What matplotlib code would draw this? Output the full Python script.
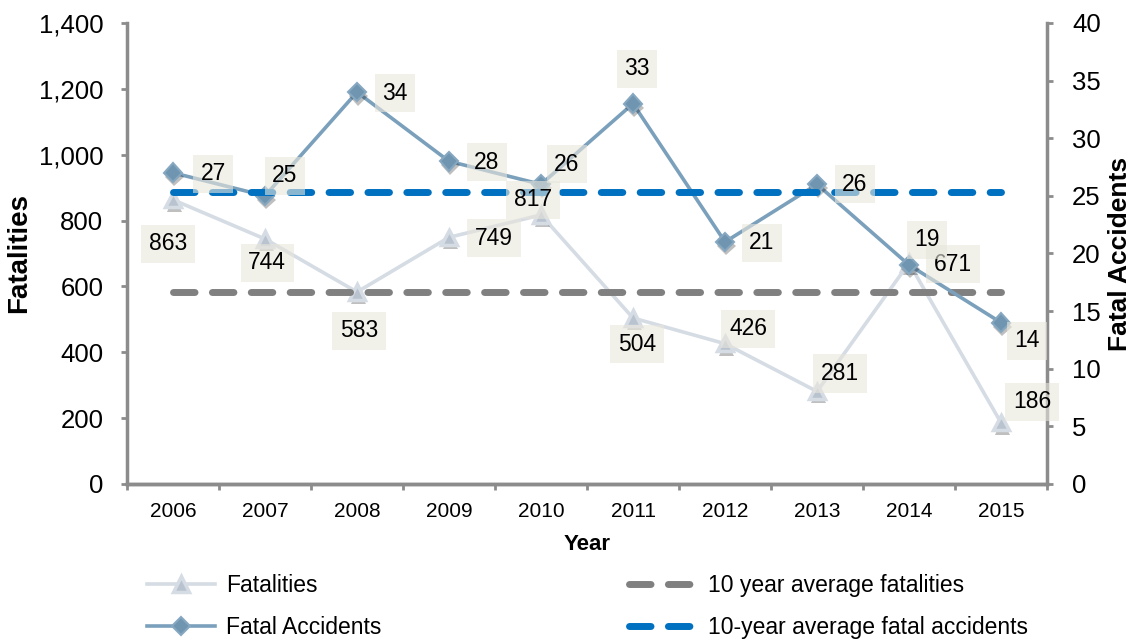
import matplotlib
matplotlib.use("Agg")

import matplotlib.pyplot as plt
import matplotlib.patheffects as pe
from matplotlib.ticker import FuncFormatter, FixedLocator

plt.rcParams["font.family"] = ["Liberation Sans", "DejaVu Sans"]

# data
years = ["2006", "2007", "2008", "2009", "2010", "2011", "2012", "2013", "2014", "2015"]
fatalities = [863, 744, 583, 749, 817, 504, 426, 281, 671, 186]
fatal_accidents = [27, 25, 34, 28, 26, 33, 21, 26, 19, 14]
avg_fatalities = 582.4
avg_accidents = 25.3

# label offsets in pixels (dx, dy with y up)
fat_offsets = [(-5, -44), (2, -24), (2, -39), (45, -1), (-8, 15),
               (4, -26), (23, 15), (23, 18), (44, -1), (31, 21)]
acc_offsets = [(40, -1), (20, 20), (38, -1), (38, -1), (26, 20),
               (4, 35), (37, -1), (38, 0), (18, 25), (26, -18)]

C_FAT = "#D5DCE4"
C_ACC = "#7BA0BC"
C_AVG_FAT = "#808080"
C_AVG_ACC = "#0070C0"
C_SPINE = "#8C8C8C"

fig = plt.figure(figsize=(11.35, 6.43), dpi=100)
ax1 = fig.add_axes([0.1119, 0.2473, 0.8106, 0.7170])
ax2 = ax1.twinx()

x = list(range(len(years)))
shadow = [pe.SimplePatchShadow(offset=(1, -3), shadow_rgbFace="black", alpha=0.25), pe.Normal()]

# Fatalities (left axis)
ax1.plot(x, fatalities, color=C_FAT, lw=2.6, zorder=2)
ax1.plot(x, fatalities, ls="none", marker="^", ms=11, mfc="#B9C3CF", mec=C_FAT, mew=2.5,
         zorder=3, path_effects=shadow)
ax1.plot([x[0], x[-1]], [avg_fatalities, avg_fatalities], color=C_AVG_FAT, lw=5,
         dashes=(3.1, 2.5), dash_capstyle="round", zorder=4)

# Fatal accidents (right axis)
ax2.plot(x, fatal_accidents, color=C_ACC, lw=2.6, zorder=2)
ax2.plot(x, fatal_accidents, ls="none", marker="D", ms=9.5, mfc="#6F95B1", mec="#86A7C0", mew=1.5,
         zorder=3, path_effects=shadow)
ax2.plot([x[0], x[-1]], [avg_accidents, avg_accidents], color=C_AVG_ACC, lw=5,
         dashes=(3.1, 2.5), dash_capstyle="round", zorder=4)

# data labels, all drawn on top
box = dict(boxstyle="square,pad=0.33", fc=(0.91, 0.90, 0.86), ec="none", alpha=0.6)
for i, v in enumerate(fatalities):
    ax2.annotate(str(v), (x[i], v), xycoords=ax1.transData, xytext=fat_offsets[i],
                 textcoords="offset pixels", ha="center", va="center", fontsize=16.5,
                 bbox=box, zorder=10)
for i, v in enumerate(fatal_accidents):
    ax2.annotate(str(v), (x[i], v), xycoords=ax2.transData, xytext=acc_offsets[i],
                 textcoords="offset pixels", ha="center", va="center", fontsize=16.5,
                 bbox=box, zorder=10)

# axes styling
ax1.set_xlim(-0.5, 9.5)
ax1.set_ylim(0, 1400)
ax2.set_ylim(0, 40)
ax1.set_yticks(range(0, 1401, 200))
ax2.set_yticks(range(0, 41, 5))
ax1.yaxis.set_major_formatter(FuncFormatter(lambda v, p: f"{v:,.0f}"))

ax1.set_xticks(x)
ax1.set_xticklabels(years, fontsize=15)
ax1.xaxis.set_minor_locator(FixedLocator([i - 0.5 for i in range(len(years) + 1)]))
ax1.tick_params(axis="x", which="major", length=0, pad=13)
ax1.tick_params(axis="x", which="minor", length=4, width=2, color=C_SPINE, direction="out")
ax1.tick_params(axis="y", length=4, width=2, color=C_SPINE, labelsize=18.5, pad=13)
ax2.tick_params(axis="y", length=4, width=2, color=C_SPINE, labelsize=18.5, pad=14)

for a in (ax1, ax2):
    a.spines["top"].set_visible(False)
    for s in ("left", "right", "bottom"):
        a.spines[s].set_color(C_SPINE)
        a.spines[s].set_linewidth(2.5)
ax1.spines["right"].set_visible(False)
ax2.spines["left"].set_visible(False)

ax1.set_xlabel("Year", fontsize=16, fontweight="bold", labelpad=9)
ax1.set_ylabel("Fatalities", fontsize=20, fontweight="bold")
ax1.yaxis.set_label_coords(-0.103, 0.5)
ax2.set_ylabel("Fatal Accidents", fontsize=19, fontweight="bold")
ax2.yaxis.set_label_coords(1.066, 0.5)

# legends
h_fat, = ax1.plot([], [], color=C_FAT, lw=2.6, marker="^", ms=11, mfc="#B9C3CF", mec=C_FAT, mew=2.5)
h_acc, = ax1.plot([], [], color=C_ACC, lw=2.6, marker="D", ms=9.5, mfc="#6F95B1", mec="#86A7C0", mew=1.5)
h_avf, = ax1.plot([], [], color=C_AVG_FAT, lw=5, dashes=(3.1, 2.5), dash_capstyle="round")
h_ava, = ax1.plot([], [], color=C_AVG_ACC, lw=5, dashes=(3.1, 2.5), dash_capstyle="round")

leg_kw = dict(frameon=False, fontsize=16.5, handlelength=2.95, handletextpad=0.5,
              labelspacing=0.85, borderpad=0, borderaxespad=0, loc="upper left",
              bbox_transform=fig.transFigure)
leg1 = ax2.legend([h_fat, h_acc], ["Fatalities", "Fatal Accidents"],
                  bbox_to_anchor=(147 / 1135, 1 - 574 / 643), **leg_kw)
ax2.add_artist(leg1)
ax2.legend([h_avf, h_ava], ["10 year average fatalities", "10-year average fatal accidents"],
           bbox_to_anchor=(629 / 1135, 1 - 574 / 643), **leg_kw)

fig.savefig("out.png", dpi=100)
